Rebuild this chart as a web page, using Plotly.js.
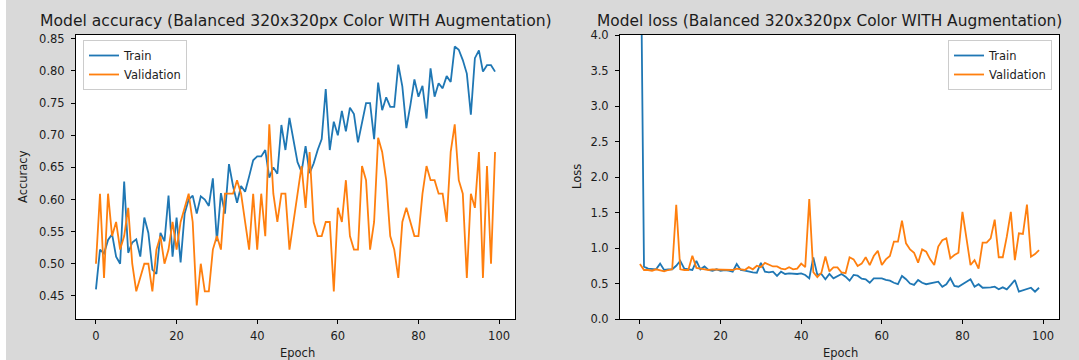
<!DOCTYPE html>
<html>
<head>
<meta charset="utf-8">
<script src="https://cdn.plot.ly/plotly-3.0.1.min.js"></script>
<style>
html,body{margin:0;padding:0;background:#ffffff;width:1079px;height:360px;overflow:hidden;}
#chart{position:absolute;left:6px;top:0;width:1073px;height:360px;}
</style>
</head>
<body>
<div id="chart"></div>
<script>
// ---- data ----
const epochs = Array.from({length: 100}, (_, i) => i);

const trainAcc = [
0.460,0.522,0.516,0.537,0.546,0.511,0.500,0.628,0.517,0.533,
0.538,0.511,0.572,0.548,0.491,0.484,0.548,0.535,0.606,0.511,
0.572,0.502,0.578,0.600,0.606,0.578,0.605,0.600,0.590,0.633,
0.535,0.610,0.578,0.655,0.621,0.595,0.621,0.612,0.636,0.661,
0.667,0.667,0.677,0.634,0.650,0.640,0.716,0.677,0.727,0.693,
0.658,0.643,0.683,0.641,0.656,0.677,0.694,0.772,0.677,0.721,
0.700,0.738,0.706,0.743,0.733,0.689,0.719,0.750,0.750,0.694,
0.782,0.739,0.759,0.744,0.744,0.810,0.776,0.711,0.747,0.787,
0.760,0.777,0.726,0.804,0.760,0.781,0.773,0.792,0.783,0.838,
0.833,0.817,0.796,0.732,0.820,0.832,0.799,0.809,0.809,0.799];

const valAcc = [
0.500,0.609,0.478,0.609,0.543,0.565,0.522,0.543,0.587,0.500,
0.457,0.478,0.500,0.500,0.457,0.522,0.543,0.500,0.522,0.565,
0.522,0.565,0.587,0.609,0.565,0.435,0.500,0.457,0.457,0.522,
0.543,0.522,0.609,0.609,0.609,0.630,0.609,0.565,0.522,0.609,
0.522,0.609,0.543,0.717,0.609,0.565,0.609,0.609,0.522,0.565,
0.609,0.652,0.587,0.674,0.565,0.543,0.543,0.565,0.565,0.457,
0.587,0.565,0.630,0.543,0.522,0.522,0.652,0.630,0.522,0.565,
0.696,0.674,0.630,0.543,0.522,0.478,0.565,0.587,0.565,0.543,
0.543,0.609,0.652,0.630,0.630,0.609,0.609,0.565,0.674,0.717,
0.630,0.609,0.478,0.609,0.587,0.674,0.478,0.652,0.500,0.674];

const trainLoss = [
6.50,0.737,0.71,0.70,0.70,0.78,0.69,0.70,0.70,0.75,
0.82,0.71,0.70,0.69,0.82,0.70,0.74,0.69,0.68,0.70,
0.68,0.69,0.68,0.667,0.775,0.69,0.68,0.667,0.657,0.652,
0.79,0.667,0.657,0.667,0.606,0.667,0.634,0.643,0.634,0.634,
0.643,0.62,0.573,0.868,0.62,0.634,0.56,0.634,0.573,0.60,
0.634,0.596,0.54,0.62,0.61,0.568,0.56,0.51,0.573,0.573,
0.573,0.55,0.54,0.51,0.49,0.606,0.56,0.50,0.48,0.55,
0.51,0.49,0.50,0.51,0.526,0.455,0.49,0.573,0.465,0.455,
0.49,0.526,0.56,0.455,0.49,0.44,0.44,0.446,0.455,0.418,
0.446,0.418,0.48,0.55,0.385,0.40,0.418,0.44,0.385,0.44];

const valLoss = [
0.775,0.69,0.69,0.68,0.70,0.68,0.67,0.69,0.70,1.61,
0.70,0.69,0.69,0.89,0.72,0.71,0.70,0.69,0.70,0.70,
0.70,0.70,0.69,0.69,0.71,0.70,0.69,0.73,0.70,0.75,
0.73,0.79,0.76,0.74,0.74,0.71,0.70,0.73,0.70,0.71,
0.78,0.73,1.69,0.66,0.59,0.65,0.88,0.67,0.727,0.727,
0.655,0.645,0.87,0.84,0.746,0.78,0.87,0.76,0.887,0.96,
0.76,0.84,0.887,1.09,1.09,1.385,1.066,0.98,0.934,0.793,
0.98,0.948,0.84,0.76,1.02,1.11,1.136,0.854,0.90,0.934,
1.51,1.11,0.76,0.83,0.71,1.075,1.075,1.136,1.40,0.87,
0.87,1.16,1.51,0.83,1.207,1.197,1.61,0.878,0.915,0.97];

const seriesNames = ['Train', 'Validation'];
const titles = ['Model accuracy (Balanced 320x320px Color WITH Augmentation)',
                'Model loss (Balanced 320x320px Color WITH Augmentation)'];
const yTitles = ['Accuracy', 'Loss'];
const xTitle = 'Epoch';

// ---- layout helpers ----
const W = 1073, H = 360, OFF = 6;
const px = v => (v - OFF) / W;     // page x -> paper fraction
const py = v => 1 - v / H;         // page y -> paper fraction
const C1 = '#1f77b4', C2 = '#ff7f0e';
const FONT = 'DejaVu Sans, sans-serif';
const TXT = '#1c1c1c';

const traces = [
  {x: epochs, y: trainAcc, name: seriesNames[0], type: 'scatter', mode: 'lines',
   line: {color: C1, width: 1.8}, xaxis: 'x', yaxis: 'y', legend: 'legend'},
  {x: epochs, y: valAcc, name: seriesNames[1], type: 'scatter', mode: 'lines',
   line: {color: C2, width: 1.8}, xaxis: 'x', yaxis: 'y', legend: 'legend'},
  {x: epochs, y: trainLoss, name: seriesNames[0], type: 'scatter', mode: 'lines',
   line: {color: C1, width: 1.8}, xaxis: 'x2', yaxis: 'y2', legend: 'legend2'},
  {x: epochs, y: valLoss, name: seriesNames[1], type: 'scatter', mode: 'lines',
   line: {color: C2, width: 1.8}, xaxis: 'x2', yaxis: 'y2', legend: 'legend2'}
];

const axisCommon = {
  showgrid: false, zeroline: false, showline: true, linecolor: '#000', linewidth: 1,
  mirror: true, ticks: 'outside', ticklen: 4, tickwidth: 1, tickcolor: '#000',
  tickfont: {family: FONT, size: 11.5, color: TXT}, fixedrange: true
};

const legendCommon = {
  bgcolor: 'rgba(255,255,255,0.9)', bordercolor: '#cccccc', borderwidth: 1,
  font: {family: FONT, size: 11.5, color: TXT}, itemwidth: 30,
  yanchor: 'top', y: py(40)
};

const layout = {
  width: W, height: H,
  paper_bgcolor: '#d9d9d9', plot_bgcolor: '#ffffff',
  margin: {l: 0, r: 0, t: 0, b: 0},
  font: {family: FONT, color: TXT},
  xaxis: Object.assign({}, axisCommon, {domain: [px(76), px(515)], range: [-4.95, 103.95],
    tick0: 0, dtick: 20, anchor: 'y', ticklabelstandoff: 2}),
  yaxis: Object.assign({}, axisCommon, {domain: [py(319), py(35)], range: [0.414, 0.856],
    tick0: 0.45, dtick: 0.05, tickformat: '.2f', anchor: 'x', ticklabelstandoff: 4}),
  xaxis2: Object.assign({}, axisCommon, {domain: [px(620), px(1059)], range: [-4.95, 103.95],
    tick0: 0, dtick: 20, anchor: 'y2', ticklabelstandoff: 2}),
  yaxis2: Object.assign({}, axisCommon, {domain: [py(319), py(35)], range: [0, 4],
    tick0: 0, dtick: 0.5, tickformat: '.1f', anchor: 'x2', ticklabelstandoff: 4}),
  legend: Object.assign({}, legendCommon, {x: px(83), xanchor: 'left'}),
  legend2: Object.assign({}, legendCommon, {x: px(1052), xanchor: 'right'}),
  annotations: [
    {text: titles[0], xref: 'paper', yref: 'paper', x: px(295.5), y: py(21),
     xanchor: 'center', yanchor: 'middle', showarrow: false, font: {family: FONT, size: 15.6, color: TXT}},
    {text: titles[1], xref: 'paper', yref: 'paper', x: px(829), y: py(21),
     xanchor: 'center', yanchor: 'middle', showarrow: false, font: {family: FONT, size: 15.4, color: TXT}},
    {text: yTitles[0], xref: 'paper', yref: 'paper', x: px(23), y: py(177), textangle: -90,
     xanchor: 'center', yanchor: 'middle', showarrow: false, font: {family: FONT, size: 11.5, color: TXT}},
    {text: yTitles[1], xref: 'paper', yref: 'paper', x: px(577), y: py(177), textangle: -90,
     xanchor: 'center', yanchor: 'middle', showarrow: false, font: {family: FONT, size: 11.5, color: TXT}},
    {text: xTitle, xref: 'paper', yref: 'paper', x: px(297), y: py(353),
     xanchor: 'center', yanchor: 'middle', showarrow: false, font: {family: FONT, size: 11.5, color: TXT}},
    {text: xTitle, xref: 'paper', yref: 'paper', x: px(840), y: py(353),
     xanchor: 'center', yanchor: 'middle', showarrow: false, font: {family: FONT, size: 11.5, color: TXT}}
  ]
};

Plotly.newPlot('chart', traces, layout, {staticPlot: true, displayModeBar: false});
</script>
</body>
</html>
